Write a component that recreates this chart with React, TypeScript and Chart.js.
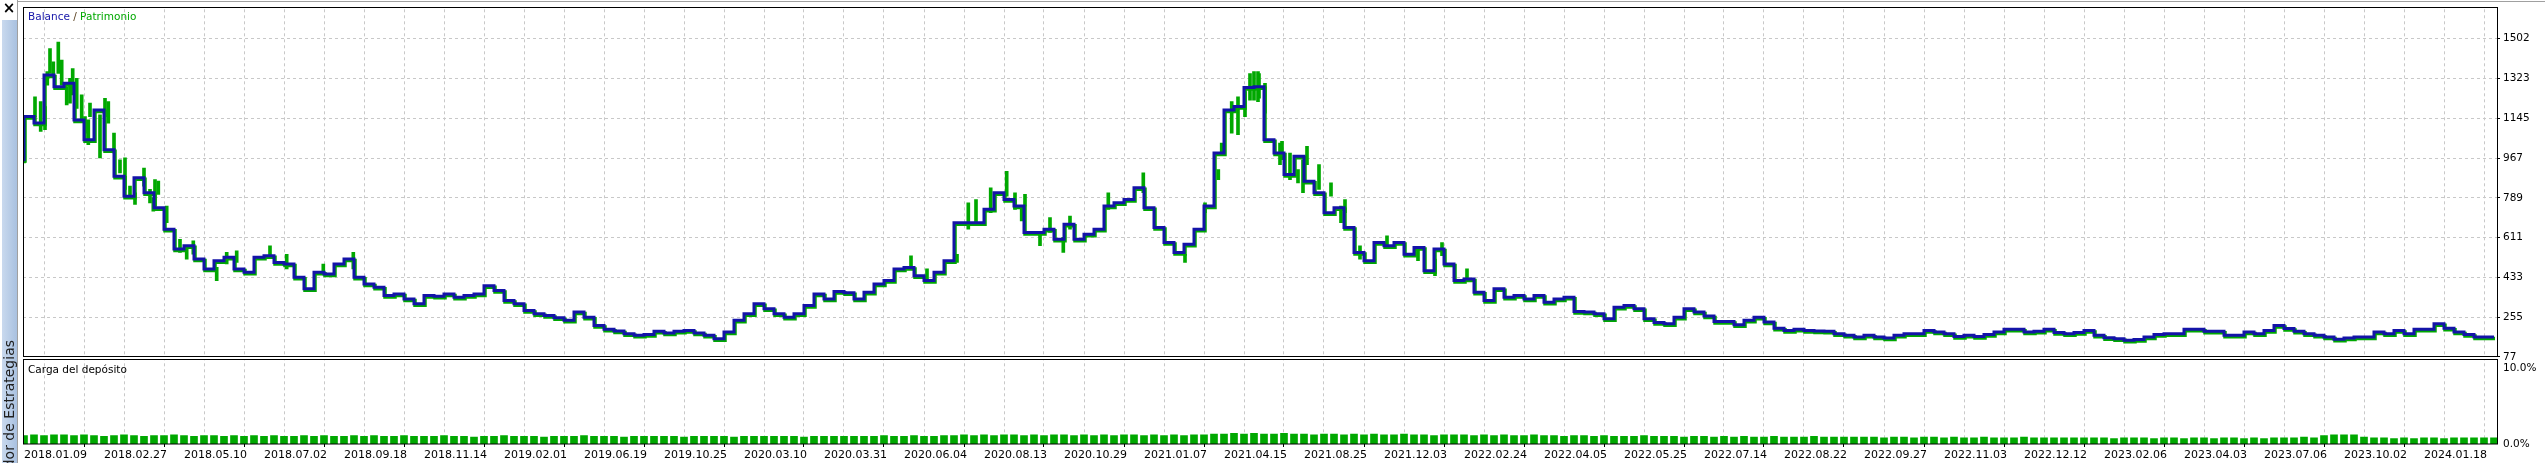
import React, { useEffect, useRef } from 'react';
import { Chart, registerables } from 'chart.js';

Chart.register(...registerables);

// ---------- data ----------
const X_LABELS = [
  '2018.01.09', '2018.02.27', '2018.05.10', '2018.07.02', '2018.09.18', '2018.11.14',
  '2019.02.01', '2019.06.19', '2019.10.25', '2020.03.10', '2020.03.31', '2020.06.04',
  '2020.08.13', '2020.10.29', '2021.01.07', '2021.04.15', '2021.08.25', '2021.12.03',
  '2022.02.24', '2022.04.05', '2022.05.25', '2022.07.14', '2022.08.22', '2022.09.27',
  '2022.11.03', '2022.12.12', '2023.02.06', '2023.04.03', '2023.07.06', '2023.10.02',
  '2024.01.18',
];

const Y_TICK_LABELS = ['77', '255', '433', '611', '789', '967', '1145', '1323', '1502'];
const Y_MIN = 77;
const Y_STEP = 178.125;
const LOAD_TICK_LABELS = ['0.0%', '10.0%'];
const LOAD_TICKS = [0, 10];

// balance, one value per deal step
const BALANCE = [
  953, 1153, 1124, 1339, 1287, 1302, 1138, 1049, 1183, 1005,
  886, 797, 879, 812, 745, 649, 560, 575, 515, 471,
  508, 523, 471, 456, 523, 530, 500, 493, 434, 382,
  456, 448, 493, 515, 434, 404, 389, 352, 359, 337,
  315, 352, 349, 359, 344, 352, 359, 396, 374, 330,
  315, 285, 270, 263, 252, 241, 278, 255, 218, 201,
  193, 181, 174, 178, 192, 184, 192, 196, 184, 174,
  159, 189, 241, 270, 315, 293, 270, 255, 270, 307,
  359, 337, 370, 364, 337, 367, 404, 419, 471, 478,
  441, 419, 456, 508, 678, 678, 678, 738, 812, 782,
  753, 634, 634, 649, 604, 671, 604, 626, 649, 753,
  767, 782, 834, 745, 656, 589, 545, 582, 649, 753,
  990, 1183, 1198, 1283, 1287, 1049, 990, 894, 975, 864,
  812, 723, 745, 656, 545, 508, 589, 575, 589, 537,
  567, 463, 560, 493, 419, 426, 367, 330, 382, 344,
  352, 337, 352, 322, 337, 344, 281, 278, 270, 248,
  300, 307, 293, 248, 231, 226, 255, 293, 278, 260,
  236, 236, 221, 241, 255, 233, 206, 196, 201, 196,
  193, 192, 181, 174, 166, 174, 166, 162, 174, 181,
  181, 196, 189, 181, 169, 174, 169, 177, 189, 201,
  201, 189, 192, 201, 186, 181, 186, 196, 174, 163,
  159, 152, 155, 166, 177, 181, 181, 201, 201, 192,
  192, 174, 174, 189, 181, 196, 218, 204, 192, 181,
  174, 166, 156, 162, 166, 166, 189, 181, 196, 181,
  201, 201, 226, 206, 189, 177, 166, 166,
];

// equity excursions: [deal position, low, high]
const EQUITY_SPIKES: [number, number, number][] = [
  [0, 946, 1035], [1.1, 1153, 1242], [1.67, 1087, 1220], [2.1, 1094, 1198],
  [2.33, 1294, 1354], [2.6, 1346, 1457], [2.93, 1331, 1398], [3.43, 1346, 1487],
  [3.77, 1294, 1406], [4.27, 1205, 1287], [4.6, 1213, 1324], [4.87, 1250, 1368],
  [5.27, 1190, 1324], [5.77, 1138, 1250], [6.1, 1079, 1153], [6.43, 1027, 1138],
  [6.6, 1153, 1213], [7.6, 968, 1161], [8.1, 1153, 1235], [8.43, 1124, 1220],
  [9.0, 990, 1079], [9.6, 901, 960], [10.1, 827, 968], [10.6, 790, 842],
  [11.1, 760, 812], [12.0, 842, 923], [12.6, 767, 827], [12.93, 730, 790],
  [13.1, 753, 871], [13.43, 805, 864], [14.27, 678, 753], [15.6, 545, 604],
  [16.27, 515, 560], [16.93, 537, 597], [19.27, 419, 478], [20.27, 493, 545],
  [21.27, 500, 552], [24.6, 523, 575], [26.27, 471, 537], [29.93, 456, 493],
  [32.93, 471, 545],
  [88.7, 471, 530], [90.3, 411, 471], [93.3, 500, 537], [94.43, 649, 767],
  [95.2, 671, 782], [96.67, 723, 834], [98.27, 797, 908], [99.1, 738, 812],
  [99.77, 686, 753], [100.1, 753, 805], [101.6, 575, 634], [102.6, 634, 701],
  [103.93, 545, 612], [104.6, 649, 708], [108.43, 738, 812], [111.93, 812, 901],
  [116.1, 500, 537], [118.1, 723, 767], [119.43, 871, 916], [119.77, 983, 1035],
  [120.77, 1079, 1220], [121.4, 1072, 1242], [122.1, 1153, 1265], [122.6, 1227, 1346],
  [123.0, 1227, 1354], [123.4, 1220, 1354], [123.5, 1235, 1346], [124.1, 1168, 1302],
  [125.6, 938, 1035], [125.8, 960, 1042], [126.6, 871, 990], [127.4, 856, 916],
  [127.9, 812, 960], [128.3, 938, 1020], [129.5, 827, 938], [130.7, 797, 856],
  [131.7, 678, 753], [132.1, 723, 782], [133.6, 515, 575], [136.3, 575, 619],
  [139.4, 508, 567], [141.1, 441, 515], [141.8, 530, 589], [144.3, 426, 471],
];

// deposit load, % per deal step
const LOAD = [
  1.1, 1.2, 1.1, 1.2, 1.2, 1.1, 1.2, 1.1, 1.0, 1.1, 1.2, 1.1, 1.0, 1.1, 1.1, 1.2,
  1.1, 1.0, 1.1, 1.1, 1.0, 1.1, 1.0, 1.1, 1.0, 1.1, 1.0, 1.0, 1.1, 1.0, 1.1, 1.0,
  1.0, 1.1, 1.0, 1.1, 1.0, 1.0, 1.1, 1.0, 1.0, 1.0, 1.1, 1.0, 1.0, 0.9, 1.0, 1.0,
  1.1, 1.0, 1.0, 1.0, 0.9, 1.0, 1.0, 1.0, 1.1, 1.0, 1.0, 1.0, 0.9, 1.0, 1.0, 1.0,
  1.0, 1.0, 0.9, 1.0, 1.0, 1.0, 1.0, 0.9, 1.0, 1.0, 1.0, 1.0, 1.0, 1.0, 0.9, 1.0,
  1.0, 1.0, 1.0, 1.0, 1.0, 1.0, 1.1, 1.0, 1.0, 1.1, 1.0, 1.0, 1.1, 1.1, 1.2, 1.1,
  1.2, 1.1, 1.2, 1.2, 1.1, 1.2, 1.1, 1.2, 1.2, 1.1, 1.2, 1.1, 1.2, 1.1, 1.2, 1.2,
  1.1, 1.2, 1.1, 1.2, 1.1, 1.2, 1.2, 1.3, 1.3, 1.4, 1.3, 1.4, 1.3, 1.3, 1.4, 1.3,
  1.3, 1.2, 1.3, 1.3, 1.2, 1.3, 1.2, 1.3, 1.2, 1.2, 1.3, 1.2, 1.2, 1.1, 1.2, 1.2,
  1.2, 1.1, 1.2, 1.1, 1.2, 1.1, 1.1, 1.2, 1.1, 1.1, 1.0, 1.1, 1.1, 1.0, 1.1, 1.0,
  1.0, 1.0, 1.1, 1.0, 1.0, 1.0, 0.9, 1.0, 1.0, 0.9, 1.0, 0.9, 1.0, 0.9, 0.9, 1.0,
  0.9, 0.9, 0.9, 1.0, 0.9, 0.9, 0.9, 0.9, 0.9, 0.9, 0.8, 0.9, 0.9, 0.8, 0.9, 0.9,
  0.8, 0.9, 0.8, 0.8, 0.9, 0.8, 0.8, 0.8, 0.9, 0.8, 0.8, 0.8, 0.8, 0.8, 0.8, 0.8,
  0.8, 0.7, 0.8, 0.8, 0.8, 0.7, 0.8, 0.8, 0.7, 0.8, 0.8, 0.7, 0.8, 0.8, 0.7, 0.8,
  0.7, 0.8, 0.8, 0.8, 0.9, 0.8, 1.1, 1.2, 1.2, 1.2, 0.9, 0.8, 0.8, 0.7, 0.8, 0.7,
  0.8, 0.8, 0.7, 0.8, 0.8, 0.8, 0.8, 0.8,
];

// ---------- layout constants ----------
const W = 2545;
const H = 463;
const PLOT_L = 23;
const PLOT_R = 2497;
const PLOT_T = 7;
const PLOT_B = 444;
const MAIN_B = 356.5; // value 77
const MAIN_TOP_TICK = 36.5; // value 1502
const LOAD_TOP_Y = 367; // 10 %

const BLUE = '#1414a8';
const GREEN = '#00a800';
const GRID = '#c8c8c8';
const FONT = 'DejaVu Sans';

const pxPerUnit = (MAIN_B - MAIN_TOP_TICK) / (Y_STEP * 8);
const yMin = Y_MIN - (PLOT_B - MAIN_B) / pxPerUnit;
const yMax = Y_MIN + (MAIN_B - PLOT_T) / pxPerUnit;
const pxPerPct = (PLOT_B - LOAD_TOP_Y) / 10;
const y2Max = (PLOT_B - PLOT_T) / pxPerPct;

const chromePlugin = {
  id: 'mt5chrome',
  beforeDraw(chart: any) {
    const ctx = chart.ctx as CanvasRenderingContext2D;
    ctx.save();
    ctx.fillStyle = '#ffffff';
    ctx.fillRect(0, 0, W, H);
    const g = ctx.createLinearGradient(2, 0, 17, 0);
    g.addColorStop(0, '#c9d9ee');
    g.addColorStop(1, '#a9c1e0');
    ctx.fillStyle = g;
    ctx.fillRect(2, 20, 15, H - 20);
    ctx.fillStyle = '#a0a0a0';
    ctx.fillRect(17, 0, 1, H);
    ctx.fillRect(17, 1, W - 17, 1);
    ctx.restore();
  },
  beforeDatasetDraw(chart: any, args: any) {
    if (args.index === 1) {
      chart.ctx.save();
      chart.ctx.translate(1, 1.5);
    }
  },
  afterDatasetDraw(chart: any, args: any) {
    if (args.index === 1) chart.ctx.restore();
  },
  afterDraw(chart: any) {
    const ctx = chart.ctx as CanvasRenderingContext2D;
    ctx.save();
    ctx.fillStyle = '#ffffff';
    ctx.fillRect(PLOT_L, 357, PLOT_R - PLOT_L + 1, 2);
    ctx.strokeStyle = '#000000';
    ctx.lineWidth = 1;
    ctx.strokeRect(PLOT_L + 0.5, PLOT_T + 0.5, PLOT_R - PLOT_L, 349);
    ctx.strokeRect(PLOT_L + 0.5, 359.5, PLOT_R - PLOT_L, PLOT_B - 359.5);
    ctx.font = `10.5px "${FONT}"`;
    ctx.textBaseline = 'middle';
    ctx.textAlign = 'left';
    let x = 28;
    const ty = 17;
    ctx.fillStyle = BLUE;
    ctx.fillText('Balance', x, ty);
    x += ctx.measureText('Balance ').width;
    ctx.fillStyle = '#5a4020';
    ctx.fillText('/', x, ty);
    x += ctx.measureText('/ ').width;
    ctx.fillStyle = GREEN;
    ctx.fillText('Patrimonio', x, ty);
    ctx.fillStyle = '#000000';
    ctx.fillText('Carga del depósito', 28, 370);
    const y2 = chart.scales.y2;
    LOAD_TICKS.forEach((v, k) => {
      ctx.fillStyle = '#000000';
      ctx.fillText(LOAD_TICK_LABELS[k], 2503, y2.getPixelForValue(v) + (v === 10 ? 1 : 0));
    });
    ctx.font = `bold 15px "${FONT}"`;
    ctx.textAlign = 'center';
    ctx.fillText('×', 9, 9);
    ctx.translate(10, 340);
    ctx.rotate(-Math.PI / 2);
    ctx.font = `14px "${FONT}"`;
    ctx.textAlign = 'right';
    ctx.fillStyle = '#202020';
    ctx.fillText('Probador de Estrategias', 0, 0);
    ctx.restore();
  },
};

export default function App() {
  const ref = useRef<HTMLCanvasElement>(null);

  useEffect(() => {
    if (!ref.current) return;
    const balancePts = BALANCE.map((v, i) => ({ x: i, y: v }));
    const spikePts = EQUITY_SPIKES.map(([p, lo, hi]) => ({ x: p, y: [lo, hi] }));
    const loadPts = LOAD.map((v, i) => ({ x: i, y: v }));

    const chart = new Chart(ref.current, {
      type: 'line',
      data: {
        datasets: [
          {
            type: 'line',
            label: 'Balance',
            data: balancePts as any,
            borderColor: BLUE,
            borderWidth: 3,
            pointRadius: 0,
            stepped: 'after',
            fill: false,
            order: 0,
            yAxisID: 'y',
          },
          {
            type: 'line',
            label: 'Patrimonio',
            data: balancePts as any,
            borderColor: GREEN,
            borderWidth: 3.5,
            pointRadius: 0,
            stepped: 'after',
            fill: false,
            order: 1,
            yAxisID: 'y',
          },
          {
            type: 'bar',
            label: 'Patrimonio picos',
            data: spikePts as any,
            backgroundColor: GREEN,
            borderWidth: 0,
            barThickness: 3,
            grouped: false,
            order: 2,
            yAxisID: 'y',
          } as any,
          {
            type: 'bar',
            label: 'Carga del depósito',
            data: loadPts as any,
            backgroundColor: GREEN,
            borderWidth: 0,
            barThickness: 7,
            grouped: false,
            order: 3,
            yAxisID: 'y2',
          } as any,
        ],
      },
      options: {
        responsive: false,
        devicePixelRatio: 1,
        animation: false,
        layout: { padding: { left: PLOT_L, top: PLOT_T, right: 0, bottom: 0 } },
        plugins: { legend: { display: false }, tooltip: { enabled: false } },
        scales: {
          x: {
            type: 'linear',
            min: -0.1,
            max: 247.3,
            offset: false,
            afterFit: (s: any) => { s.height = H - PLOT_B; },
            afterBuildTicks: (s: any) => {
              s.ticks = Array.from({ length: 62 }, (_, k) => ({ value: k * 4 }));
            },
            ticks: {
              autoSkip: false,
              maxRotation: 0,
              minRotation: 0,
              align: 'start',
              padding: 2,
              color: '#000000',
              font: { family: FONT, size: 11 },
              callback: (v: any) => (Number(v) % 8 === 0 ? X_LABELS[Number(v) / 8] ?? '' : ''),
            },
            grid: {
              color: (c: any) => (c.tick && c.tick.value === 0 ? 'rgba(0,0,0,0)' : GRID),
              lineWidth: 1,
              drawTicks: true,
              tickLength: 3,
              tickColor: (c: any) => (c.tick && Number(c.tick.value) % 8 === 0 ? '#000000' : 'rgba(0,0,0,0)'),
              tickBorderDash: [],
            },
            border: { display: false, dash: [3, 3] },
          } as any,
          y: {
            type: 'linear',
            position: 'right',
            min: yMin,
            max: yMax,
            afterFit: (s: any) => { s.width = W - PLOT_R; },
            afterBuildTicks: (s: any) => {
              s.ticks = Y_TICK_LABELS.map((_, k) => ({ value: Y_MIN + k * Y_STEP }));
            },
            ticks: {
              padding: 3,
              color: '#000000',
              font: { family: FONT, size: 10.5 },
              callback: (_v: any, idx: number) => Y_TICK_LABELS[idx],
            },
            grid: {
              color: (c: any) => (c.index === 0 ? 'rgba(0,0,0,0)' : GRID),
              lineWidth: 1,
              drawTicks: true,
              tickLength: 3,
              tickColor: '#000000',
              tickBorderDash: [],
            },
            border: { display: false, dash: [3, 3] },
          } as any,
          y2: {
            type: 'linear',
            display: false,
            min: 0,
            max: y2Max,
          },
        },
      },
      plugins: [chromePlugin],
    });
    return () => chart.destroy();
  }, []);

  return (
    <div style={{ position: 'absolute', left: 0, top: 0, width: W, height: H, background: '#fff' }}>
      <canvas ref={ref} width={W} height={H} style={{ display: 'block', width: W, height: H }} />
    </div>
  );
}
